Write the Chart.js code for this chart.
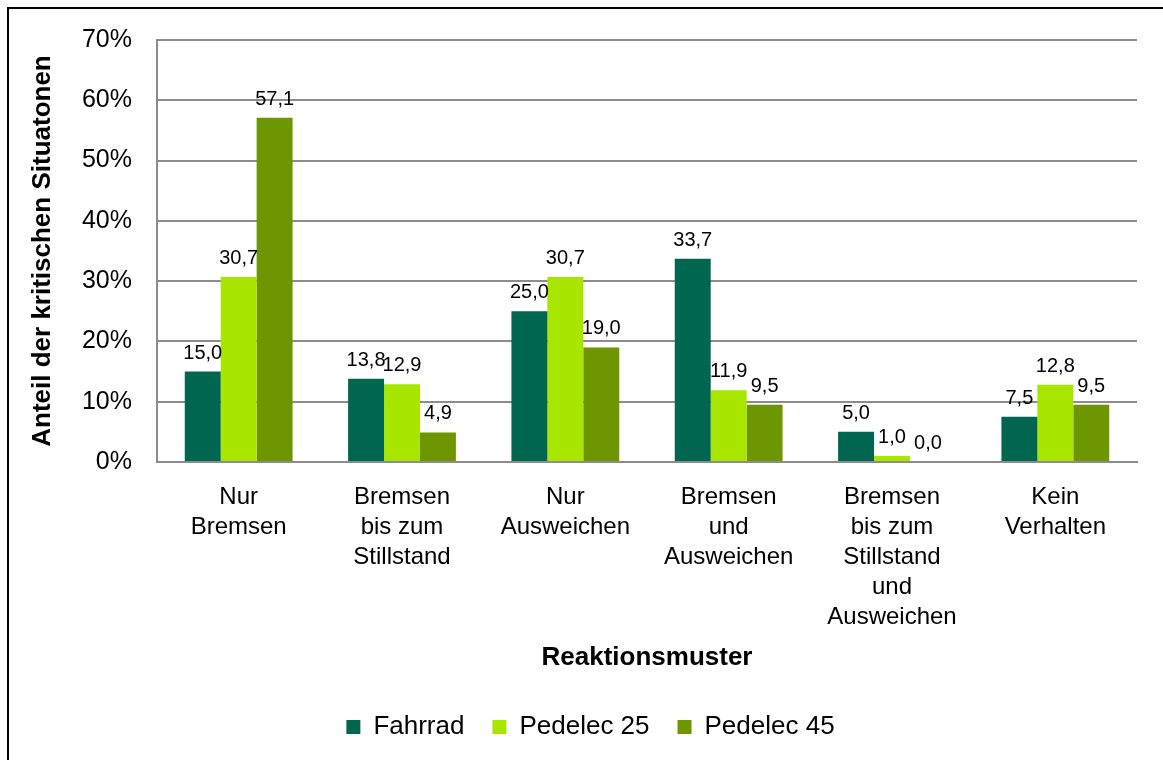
<!DOCTYPE html>
<html>
<head>
<meta charset="utf-8">
<script src="https://cdn.jsdelivr.net/npm/chart.js@4"></script>
<style>
  html, body { margin: 0; padding: 0; background: #fff; }
  .wrap { position: relative; width: 1163px; height: 760px; overflow: hidden; }
  .frame { position: absolute; left: 7px; top: 7px; width: 1300px; height: 900px;
           border-left: 2px solid #000; border-top: 2px solid #000; pointer-events: none; }
  canvas { position: absolute; left: 0; top: 0; }
</style>
</head>
<body>
<div class="wrap">
  <canvas id="chart" width="1163" height="760"></canvas>
  <div class="frame"></div>
</div>
<script>
// categories (x axis, multi-line)
const categories = [
  ["Nur", "Bremsen"],
  ["Bremsen", "bis zum", "Stillstand"],
  ["Nur", "Ausweichen"],
  ["Bremsen", "und", "Ausweichen"],
  ["Bremsen", "bis zum", "Stillstand", "und", "Ausweichen"],
  ["Kein", "Verhalten"]
];

// series values in percent
const fahrrad   = [15.0, 13.8, 25.0, 33.7, 5.0, 7.5];
const pedelec25 = [30.7, 12.9, 30.7, 11.9, 1.0, 12.8];
const pedelec45 = [57.1, 4.9, 19.0, 9.5, 0.0, 9.5];

const seriesNames = ["Fahrrad", "Pedelec 25", "Pedelec 45"];
const yTicks = [0, 10, 20, 30, 40, 50, 60, 70];

const FONT = "'Liberation Sans', Arial, sans-serif";
const gridGray = "#8c8c8c";

// draw value labels above bars (comma decimal)
const valueLabels = {
  id: "valueLabels",
  afterDatasetsDraw(chart) {
    const ctx = chart.ctx;
    ctx.save();
    ctx.font = "20px " + FONT;
    ctx.fillStyle = "#000";
    ctx.textAlign = "center";
    ctx.textBaseline = "alphabetic";
    chart.data.datasets.forEach((ds, i) => {
      const meta = chart.getDatasetMeta(i);
      meta.data.forEach((bar, j) => {
        const txt = ds.data[j].toFixed(1).replace(".", ",");
        ctx.fillText(txt, bar.x, bar.y - 13);
      });
    });
    ctx.restore();
  }
};

// legend sits a bit right of canvas centre in the original
const legendShift = {
  id: "legendShift",
  afterLayout(chart) {
    if (chart.legend) {
      chart.legend.left += 22;
      chart.legend.right += 22;
    }
  }
};

new Chart(document.getElementById("chart"), {
  type: "bar",
  data: {
    labels: categories,
    datasets: [
      { label: seriesNames[0], data: fahrrad,   backgroundColor: "#006650" },
      { label: seriesNames[1], data: pedelec25, backgroundColor: "#a8e600" },
      { label: seriesNames[2], data: pedelec45, backgroundColor: "#6e9600" }
    ]
  },
  options: {
    responsive: false,
    animation: false,
    layout: { padding: { left: 0, right: 26, top: 39, bottom: 10 } },
    datasets: { bar: { categoryPercentage: 0.66, barPercentage: 1.0 } },
    plugins: {
      legend: {
        position: "bottom",
        labels: {
          font: { family: FONT, size: 26 },
          color: "#000",
          boxWidth: 14,
          boxHeight: 14,
          padding: 28
        }
      },
      tooltip: { enabled: false }
    },
    scales: {
      x: {
        grid: { display: false, drawTicks: false },
        border: { display: true, color: gridGray, width: 2 },
        ticks: {
          font: { family: FONT, size: 24, lineHeight: 1.25 },
          color: "#000",
          padding: 20,
          autoSkip: false,
          maxRotation: 0
        },
        title: {
          display: true,
          text: "Reaktionsmuster",
          font: { family: FONT, size: 26, weight: "bold" },
          color: "#000",
          padding: { top: 0, bottom: 13 }
        },
        afterFit(scale) { scale.height = 224; }
      },
      y: {
        min: 0,
        max: 70,
        afterBuildTicks(scale) { scale.ticks = yTicks.map(v => ({ value: v })); },
        grid: { color: gridGray, lineWidth: 2, drawTicks: false },
        border: { display: true, color: gridGray, width: 2 },
        ticks: {
          font: { family: FONT, size: 25 },
          color: "#000",
          padding: 25,
          callback: v => v + "%"
        },
        title: {
          display: true,
          text: "Anteil der kritischen Situatonen",
          font: { family: FONT, size: 26, weight: "bold" },
          color: "#000",
          padding: { top: 27, bottom: 0 }
        },
        afterFit(scale) { scale.width = 157; }
      }
    }
  },
  plugins: [valueLabels, legendShift]
});
</script>
</body>
</html>
